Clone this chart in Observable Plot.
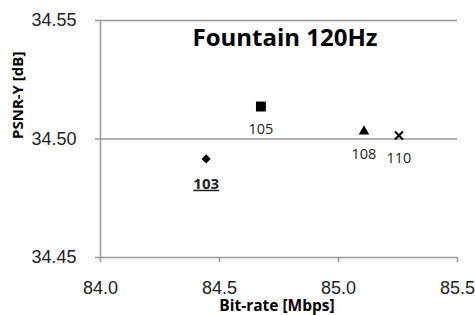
<!DOCTYPE html>
<html>
<head>
<meta charset="utf-8">
<script src="https://cdn.jsdelivr.net/npm/d3@7"></script>
<script src="https://cdn.jsdelivr.net/npm/@observablehq/plot@0.6"></script>
<style>
  html, body { margin: 0; padding: 0; background: white; }
</style>
</head>
<body>
<div id="chart"></div>
<script>
// ---- data ----
const labels   = ["103", "105", "108", "110"];
const bitrate  = [84.444, 84.674, 85.107, 85.254];
const psnr     = [34.4916, 34.5137, 34.5032, 34.5015];
const symbols  = ["diamond2", "square", "triangle", "times"];
const highlight = [true, false, false, false];
const xTicks = [84.0, 84.5, 85.0, 85.5];
const yTicks = [34.45, 34.50, 34.55];
const title = "Fountain 120Hz";
const xLabel = "Bit-rate [Mbps]";
const yLabel = "PSNR-Y [dB]";

const data = labels.map((l, i) => ({label: l, x: bitrate[i], y: psnr[i], symbol: symbols[i], hi: highlight[i]}));

// symbol sizes (style)
const symR = {diamond2: 4.1, square: 5.6, triangle: 3.9, times: 3.7};
const calibri = "'Open Sans', sans-serif";
const axisColor = "#999";

const svg = Plot.plot({
  width: 475,
  height: 315,
  marginLeft: 100,
  marginRight: 18,
  marginTop: 20,
  marginBottom: 58,
  x: {domain: [84, 85.5]},
  y: {domain: [34.45, 34.55]},
  r: {type: "identity"},
  style: {fontFamily: "'Liberation Sans', Arial, sans-serif", background: "white"},
  marks: [
    Plot.ruleY(yTicks, {stroke: axisColor, strokeWidth: 1.5}),
    Plot.ruleX([xTicks[0]], {stroke: axisColor, strokeWidth: 1.5}),
    Plot.axisX({ticks: xTicks, tickFormat: d3.format(".1f"), tickSize: 5, tickPadding: 19,
      fontSize: 18, stroke: axisColor, strokeWidth: 1.5, fill: "#222", label: null}),
    Plot.axisY({ticks: yTicks, tickFormat: d3.format(".2f"), tickSize: 5, tickPadding: 19,
      fontSize: 18, stroke: axisColor, strokeWidth: 1.5, fill: "#222", label: null}),
    Plot.dot(data, {filter: d => d.symbol !== "times", x: "x", y: "y", symbol: "symbol",
      r: d => symR[d.symbol], fill: "black", stroke: "none"}),
    Plot.dot(data, {filter: d => d.symbol === "times", x: "x", y: "y", symbol: "symbol",
      r: d => symR[d.symbol], fill: "none", stroke: "black", strokeWidth: 2}),
    Plot.text(data, {filter: d => !d.hi, x: "x", y: "y", text: "label", dy: 23,
      fontFamily: calibri, fontSize: 14.5, fill: "#222"}),
    Plot.text(data, {filter: d => d.hi, x: "x", y: "y", text: "label", dy: 25,
      fontFamily: calibri, fontSize: 15, fontWeight: "bold", fill: "#222"}),
    Plot.text([title], {frameAnchor: "top", dx: 6, dy: 18, lineAnchor: "middle",
      fontFamily: calibri, fontSize: 24, fontWeight: "bold", fill: "black"}),
    Plot.text([xLabel], {frameAnchor: "bottom", dx: -2, dy: 49, lineAnchor: "middle",
      fontFamily: calibri, fontSize: 15.5, fontWeight: "bold", fill: "black"}),
    Plot.text([yLabel], {frameAnchor: "left", dx: -82, rotate: -90, lineAnchor: "middle",
      fontFamily: calibri, fontSize: 15, fontWeight: "bold", fill: "black"})
  ]
});

const hiLabels = new Set(data.filter(d => d.hi).map(d => d.label));
d3.select(svg).selectAll("text")
  .filter(function() { return hiLabels.has(this.textContent) && this.closest("[font-weight='bold']"); })
  .attr("text-decoration", "underline")
  .style("text-decoration", "underline");
document.getElementById("chart").appendChild(svg);
</script>
</body>
</html>
